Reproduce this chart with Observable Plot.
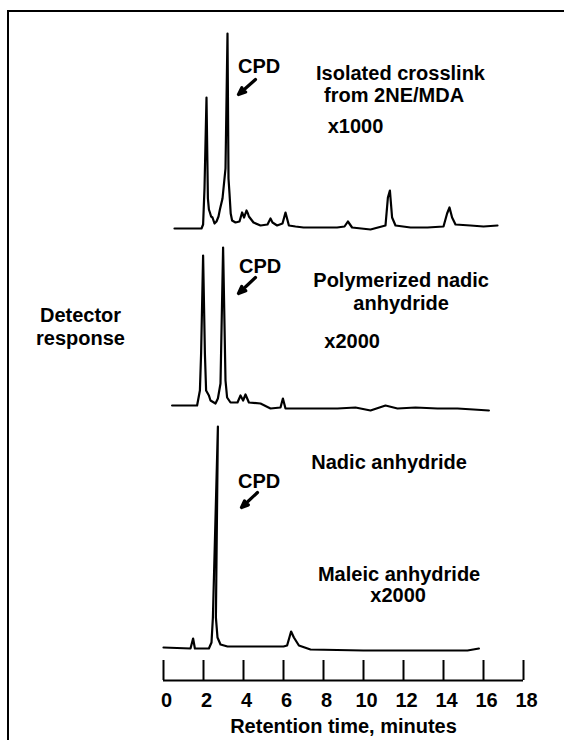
<!DOCTYPE html>
<html><head><meta charset="utf-8">
<script src="https://cdn.jsdelivr.net/npm/d3@7"></script>
<script src="https://cdn.jsdelivr.net/npm/@observablehq/plot@0.6"></script>
<style>body{margin:0;background:#fff}</style>
</head><body><div id="chart"></div>
<script>
// Retention time (minutes) and detector response (relative to each trace's baseline)
const crosslinkTime = [0.55,1.9,1.98,2.05,2.15,2.22,2.27,2.32,2.38,2.45,2.55,2.65,2.75,2.82,2.95,3.1,3.2,3.25,3.3,3.36,3.43,3.6,3.8,3.93,4.03,4.15,4.22,4.27,4.5,4.85,5.2,5.35,5.45,5.68,5.95,6.1,6.27,6.6,7.0,8.0,8.68,9.05,9.22,9.43,10.35,11.1,11.22,11.32,11.43,11.6,12.35,13.2,14.0,14.18,14.3,14.43,14.6,15.35,16.0,16.7];
const crosslinkResp = [0,0,0.4,4,13.1,3,1.9,1.6,1.2,1.1,0.5,0.7,1.2,1.9,3,6,19.5,5,3.5,1.5,0.8,0.6,0.7,1.6,1.1,1.8,1.5,1.2,0.6,0.3,0.4,1.0,0.6,0.3,0.5,1.6,0.3,0.2,0.1,0.1,0.1,0.2,0.7,0.1,-0.1,0.3,3.1,3.8,1.1,0.3,0.1,0.1,0.2,1.5,2.1,1.1,0.4,0.3,0.2,0.3];

const polyTime = [0.43,1.68,1.82,1.88,1.98,2.07,2.13,2.27,2.35,2.6,2.72,2.85,2.98,3.1,3.18,3.35,3.7,3.85,3.98,4.1,4.27,4.85,5.35,5.85,5.97,6.1,7.0,8.7,9.6,10.35,11.1,11.7,12.6,13.7,14.7,15.5,16.27];
const polyResp = [0,0,1.5,5.2,15.0,5.2,1.5,1.0,0.5,0.2,0.7,2.2,15.8,2.5,0.8,0.3,0.3,1.0,0.5,1.1,0.3,0.2,-0.3,-0.2,0.7,-0.3,-0.3,-0.3,-0.2,-0.5,0,-0.3,-0.2,-0.3,-0.3,-0.4,-0.5];

const nadicTime = [0,1.35,1.48,1.57,2.27,2.4,2.47,2.72,2.62,2.7,2.85,3.2,4.5,6.0,6.18,6.38,6.52,6.77,7.35,10.0,13.35,15.2,15.77];
const nadicResp = [0,-0.1,0.9,-0.1,-0.1,0.5,3,22.1,3,1,0.3,0.1,0.1,0.1,0.2,1.6,1.0,0.2,-0.2,-0.3,-0.3,-0.3,-0.1];

const traceNames = ["Isolated crosslink from 2NE/MDA", "Polymerized nadic anhydride", "Nadic anhydride / Maleic anhydride"];
const traceOffsets = [45.2, 27.5, 3.3];
const xTicks = [0,2,4,6,8,10,12,14,16,18];

// annotation labels
const labelText = ["CPD","Isolated crosslink","from 2NE/MDA","x1000","CPD","Polymerized nadic","anhydride","x2000","Nadic anhydride","CPD","Maleic anhydride","x2000","Detector","response"];
const labelX = [4.78,11.85,11.53,9.6,4.83,11.88,11.88,9.43,11.28,4.78,11.78,11.73,-4.15,-4.15];
const labelY = [61.4,60.7,58.5,55.4,41.4,40.0,37.7,33.9,21.8,19.9,10.6,8.5,36.5,34.2];

// CPD arrows (tail -> head)
const arrowX1 = [4.6,4.6,4.7];
const arrowY1 = [60.1,40.3,18.8];
const arrowX2 = [3.75,3.75,3.9];
const arrowY2 = [58.6,38.7,17.3];

const rows = [];
[[crosslinkTime, crosslinkResp],[polyTime, polyResp],[nadicTime, nadicResp]].forEach(([ts, rs], i) => {
  ts.forEach((t, j) => rows.push({trace: traceNames[i], t, r: rs[j] + traceOffsets[i]}));
});
const labels = labelText.map((text, i) => ({text, x: labelX[i], y: labelY[i]}));
const arrows = arrowX1.map((x1, i) => ({x1, y1: arrowY1[i], x2: arrowX2[i], y2: arrowY2[i]}));

const plot = Plot.plot({
  width: 564, height: 740,
  marginTop: 0, marginBottom: 60, marginLeft: 163, marginRight: 41,
  x: {domain: [0, 18]},
  y: {domain: [0, 68], axis: null},
  style: {fontFamily: "'Liberation Sans', Arial, sans-serif", fontSize: "20px", fontWeight: "bold", color: "#000", background: "#fff"},
  marks: [
    Plot.line(rows, {x: "t", y: "r", z: "trace", stroke: "#000", strokeWidth: 2.2, strokeLinejoin: "round"}),
    Plot.ruleY([0], {stroke: "#000", strokeWidth: 2}),
    Plot.ruleX(xTicks, {y1: 0, y2: 2, stroke: "#000", strokeWidth: 2}),
    Plot.axisX({ticks: xTicks, tickSize: 0, tickPadding: 12, fontSize: 20, fontWeight: "bold", dx: 3,
      label: "Retention time, minutes", labelAnchor: "center", labelArrow: "none", labelOffset: 52}),
    Plot.text(labels, {x: "x", y: "y", text: "text", fontSize: 20, fontWeight: "bold", fill: "#000"}),
    Plot.arrow(arrows, {x1: "x1", y1: "y1", x2: "x2", y2: "y2", stroke: "#000", strokeWidth: 3.2, headLength: 8, headAngle: 45})
  ]
});
d3.select(plot).append("path").attr("d", "M8,740V11H564").attr("fill", "none").attr("stroke", "#000").attr("stroke-width", 2);
document.getElementById("chart").appendChild(plot);
</script>
</body></html>
